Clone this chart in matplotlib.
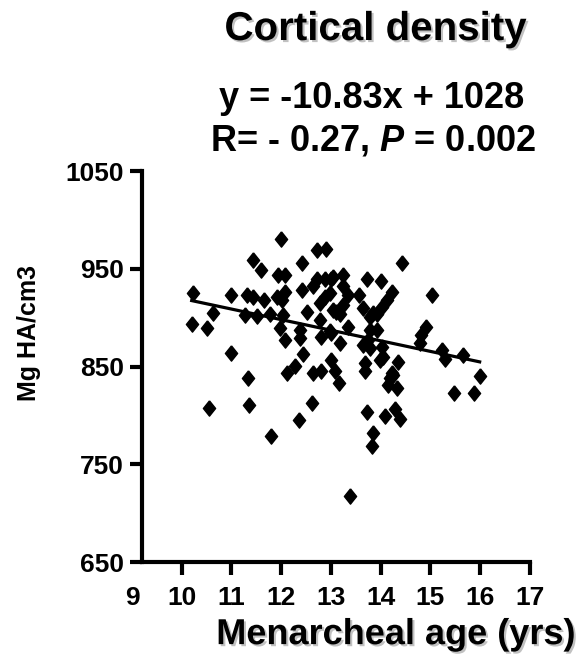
import numpy as np
import matplotlib
matplotlib.use('Agg')
import matplotlib.pyplot as plt
import matplotlib.patheffects as pe

plt.rcParams['font.family'] = ['Liberation Sans', 'DejaVu Sans']
plt.rcParams['font.weight'] = 'bold'
plt.rcParams['mathtext.fontset'] = 'custom'
plt.rcParams['mathtext.it'] = 'Liberation Sans:bold:italic'
plt.rcParams['mathtext.rm'] = 'Liberation Sans:bold'

# Menarcheal age (yrs) and cortical density (Mg HA/cm3)
age = [11.99, 12.71, 12.91, 11.43, 11.59, 12.41, 11.94, 12.08, 10.22, 11.00,
       11.31, 11.43, 11.65, 11.91, 12.08, 12.01, 12.41, 12.64, 12.71, 12.88,
       13.01, 12.78, 12.88, 10.62, 10.20, 10.50, 11.27, 11.51, 11.77, 12.04,
       11.97, 12.08, 12.38, 12.51, 12.78, 13.01, 13.11, 11.00, 12.44, 12.28,
       12.11, 12.64, 12.81, 13.01, 11.33, 14.42, 13.04, 13.24, 13.72, 14.00,
       13.24, 13.34, 13.56, 15.04, 14.22, 14.12, 14.02, 13.92, 12.98, 13.04,
       13.18, 13.24, 13.64, 13.78, 13.84, 13.34, 12.98, 13.78, 13.92, 13.74,
       13.64, 13.78, 13.18, 14.02, 14.05, 13.98, 14.35, 14.92, 14.82, 14.79,
       15.23, 15.29, 15.66, 15.99, 13.08, 13.68, 13.68, 14.22, 13.17, 14.19,
       14.15, 14.25, 14.32, 15.48, 15.87, 13.72, 14.09, 14.29, 14.39, 13.85,
       13.82, 13.38, 10.55, 11.35, 12.61, 12.36, 11.80, 12.38, 12.80]
density = [981, 969, 970, 959, 949, 956, 944, 944, 925, 923,
           923, 921, 918, 921, 926, 918, 928, 932, 940, 940,
           940, 915, 921, 905, 894, 889, 903, 902, 904, 903,
           889, 877, 887, 906, 898, 884, 906, 864, 863, 851,
           843, 843, 845, 857, 838, 956, 942, 944, 940, 938,
           932, 923, 923, 923, 926, 918, 911, 904, 925, 908,
           904, 913, 910, 901, 905, 891, 886, 887, 887, 877,
           872, 869, 874, 870, 860, 857, 855, 891, 882, 874,
           867, 858, 862, 840, 845, 854, 845, 843, 833, 838,
           831, 841, 828, 823, 823, 804, 799, 807, 796, 782,
           769, 718, 808, 811, 813, 795, 779, 879, 880]

slope = -10.83
intercept = 1028
x_ticks = [9, 10, 11, 12, 13, 14, 15, 16, 17]
y_ticks = [650, 750, 850, 950, 1050]

fig = plt.figure(figsize=(5.8, 6.67), dpi=100)
ax = fig.add_axes([0.2276, 0.1574, 0.686, 0.586])

diamond = [(0, 1), (0.8, 0), (0, -1), (-0.8, 0), (0, 1)]
ax.plot(age, density, linestyle='none', marker=diamond, markersize=11,
        color='black', zorder=3)

xl = np.array([min(age), max(age)])
ax.plot(xl, slope * xl + intercept, color='black', linewidth=2.3, zorder=2)

ax.set_xlim(9, 17)
ax.set_ylim(650, 1050)
ax.set_xticks(x_ticks)
ax.set_yticks(y_ticks)
ax.tick_params(axis='x', length=9.5, width=3, pad=8, labelsize=19)
ax.tick_params(axis='y', length=9, width=3, pad=4, labelsize=19)
ax.xaxis.get_major_ticks()[0].tick1line.set_visible(False)

for s in ['top', 'right']:
    ax.spines[s].set_visible(False)
ax.spines['left'].set_linewidth(3)
ax.spines['bottom'].set_linewidth(3)
ax.spines['left'].set_position(('data', 9.2))
ax.spines['bottom'].set_bounds(9.2, 17)

shadow = [pe.withSimplePatchShadow(offset=(1.5, -1.5), shadow_rgbFace='#999999', alpha=0.6)]

ax.set_xlabel('Menarcheal age (yrs)', fontsize=26, fontweight='bold', path_effects=shadow)
ax.xaxis.set_label_coords(0.663, -0.141)
ax.set_ylabel('Mg HA/cm3', fontsize=18, fontweight='bold')
ax.yaxis.set_label_coords(-0.228, 0.586)

fig.text(0.647, 0.940, 'Cortical density', ha='center', va='baseline',
         fontsize=29, fontweight='bold', path_effects=shadow)
fig.text(0.640, 0.838, 'y = -10.83x + 1028', ha='center', va='baseline',
         fontsize=26, fontweight='bold')
fig.text(0.643, 0.774, 'R= - 0.27, $P$ = 0.002', ha='center', va='baseline',
         fontsize=26, fontweight='bold')

fig.savefig('out.png', dpi=100)
